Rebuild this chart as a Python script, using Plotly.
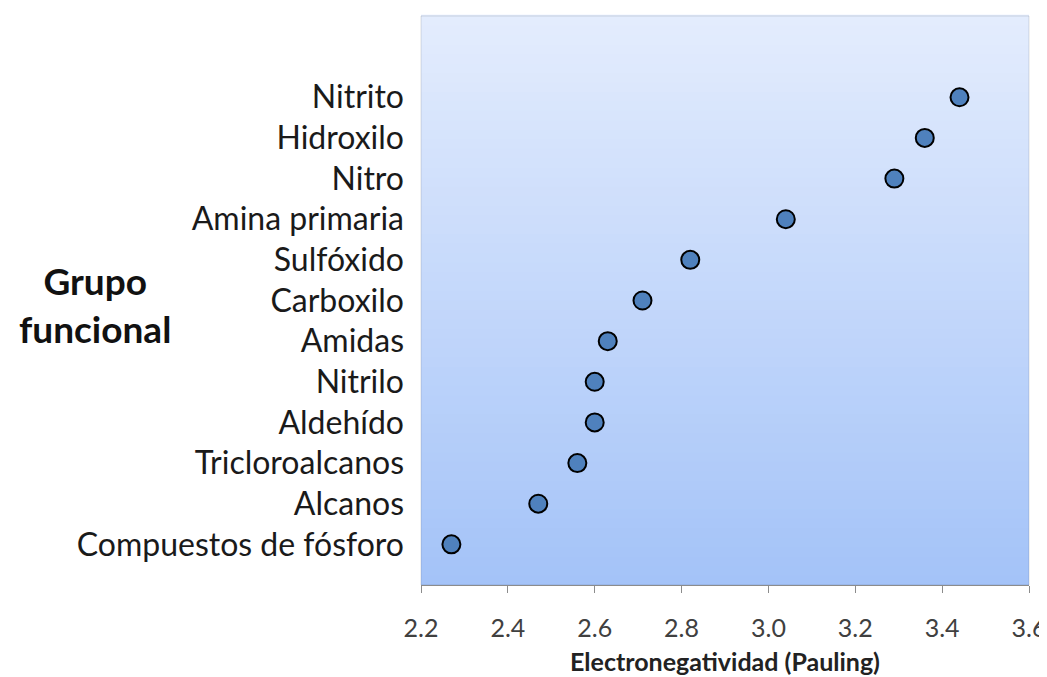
import plotly.graph_objects as go

# Datos (de abajo hacia arriba)
grupos = ['Compuestos de fósforo', 'Alcanos', 'Tricloroalcanos', 'Aldehído', 'Nitrilo',
          'Amidas', 'Carboxilo', 'Sulfóxido', 'Amina primaria', 'Nitro', 'Hidroxilo', 'Nitrito']
electroneg = [2.27, 2.47, 2.56, 2.60, 2.60, 2.63, 2.71, 2.82, 3.04, 3.29, 3.36, 3.44]
x_ticks = [2.2, 2.4, 2.6, 2.8, 3.0, 3.2, 3.4, 3.6]

FONT = 'Lato'

fig = go.Figure()
fig.add_trace(go.Scatter(
    x=electroneg,
    y=grupos,
    mode='markers',
    marker=dict(size=18, color='#4F81BD', line=dict(color='black', width=2)),
    showlegend=False,
    hovertemplate="<b>%{y}</b><br>%{x:.2f}<extra></extra>"
))

# Fondo degradado del área de trazado
top = (227, 236, 253)
bottom = (164, 195, 248)
n = 60
for i in range(n):
    t = i / (n - 1)
    c = tuple(round(bottom[k] + (top[k] - bottom[k]) * t) for k in range(3))
    fig.add_shape(type='rect', xref='x domain', yref='y domain',
                  x0=0, x1=1, y0=i / n, y1=(i + 1) / n + 0.002,
                  fillcolor='rgb(%d,%d,%d)' % c, line_width=0, layer='below')
# sombra
fig.add_shape(type='rect', xref='x domain', yref='y domain', x0=0, x1=1, y0=0, y1=1,
              line=dict(color='rgba(0,0,0,0.12)', width=1), layer='below')

fig.add_annotation(
    text='<b>Grupo<br>funcional</b>', xref='paper', yref='paper',
    x=-0.537, y=0.493, xanchor='center', yanchor='middle', showarrow=False,
    font=dict(family=FONT, size=37, color='#111111')
)

fig.update_xaxes(
    range=[2.2, 3.6], tickvals=x_ticks, ticktext=['%.1f' % v for v in x_ticks],
    showgrid=False, zeroline=False, showline=True, linecolor='#8c8c8c', linewidth=1,
    ticks='outside', ticklen=7, tickcolor='#8c8c8c', ticklabelstandoff=14,
    tickfont=dict(family=FONT, size=25, color='#404040'),
    automargin=False,
    title=dict(text='<b>Electronegatividad (Pauling)</b>', standoff=12,
               font=dict(family=FONT, size=25, color='#222222'))
)
fig.update_yaxes(
    categoryorder='array', categoryarray=grupos, range=[-1, 13],
    showgrid=False, zeroline=False, showline=False, ticks='',
    ticklabelstandoff=16,
    tickfont=dict(family=FONT, size=32, color='#1a1a1a')
)

# la página añade ~8 px de margen al cuerpo
fig.update_layout(
    width=1039, height=669,
    margin=dict(l=413, r=18, t=8, b=92),
    paper_bgcolor='white', plot_bgcolor='white',
)

fig.write_html("out.html")
